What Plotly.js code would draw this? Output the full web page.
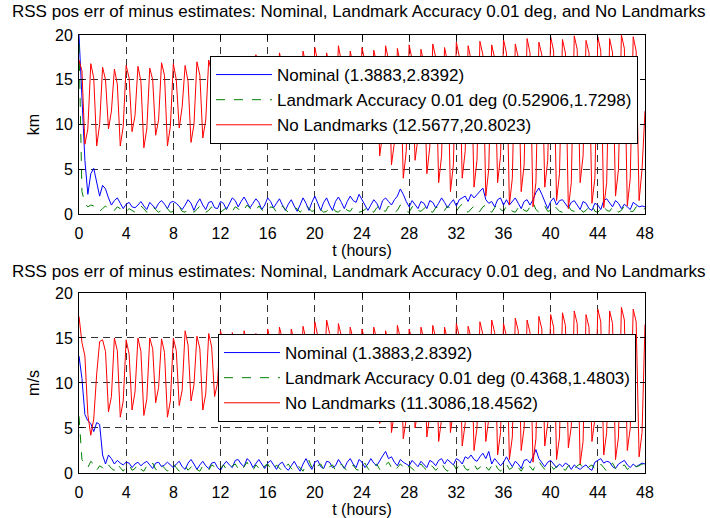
<!DOCTYPE html>
<html>
<head>
<meta charset="utf-8">
<script src="https://cdn.plot.ly/plotly-3.0.1.min.js"></script>
<style>html,body{margin:0;padding:0;background:#fff;}#chart{width:710px;height:518px;}</style>
</head>
<body>
<div id="chart"></div>
<script>
// time (hours)
const hours = [0,0.25,0.5,0.75,1,1.25,1.5,1.75,2,2.25,2.5,2.75,3,3.25,3.5,3.75,4,4.25,4.5,4.75,5,5.25,5.5,5.75,6,6.25,6.5,6.75,7,7.25,7.5,7.75,8,8.25,8.5,8.75,9,9.25,9.5,9.75,10,10.25,10.5,10.75,11,11.25,11.5,11.75,12,12.25,12.5,12.75,13,13.25,13.5,13.75,14,14.25,14.5,14.75,15,15.25,15.5,15.75,16,16.25,16.5,16.75,17,17.25,17.5,17.75,18,18.25,18.5,18.75,19,19.25,19.5,19.75,20,20.25,20.5,20.75,21,21.25,21.5,21.75,22,22.25,22.5,22.75,23,23.25,23.5,23.75,24,24.25,24.5,24.75,25,25.25,25.5,25.75,26,26.25,26.5,26.75,27,27.25,27.5,27.75,28,28.25,28.5,28.75,29,29.25,29.5,29.75,30,30.25,30.5,30.75,31,31.25,31.5,31.75,32,32.25,32.5,32.75,33,33.25,33.5,33.75,34,34.25,34.5,34.75,35,35.25,35.5,35.75,36,36.25,36.5,36.75,37,37.25,37.5,37.75,38,38.25,38.5,38.75,39,39.25,39.5,39.75,40,40.25,40.5,40.75,41,41.25,41.5,41.75,42,42.25,42.5,42.75,43,43.25,43.5,43.75,44,44.25,44.5,44.75,45,45.25,45.5,45.75,46,46.25,46.5,46.75,47,47.25,47.5,47.75,48];

// Top panel (km)
const posNominal = [20,12,6,2.2, 4.5,5.1,3.5,2.0, 3.2,2.8,1.8,1.0, 1.5,1.8,1.2,0.6, 1.1,1.3,0.8,0.7, 1.0,1.4,0.9,0.5, 1.3,1.0,0.6,1.2, 1.5,1.1,0.6,1.3, 1.4,1.2,0.8,0.5, 1.0,1.6,1.2,0.4, 1.2,1.7,1.0,0.5, 1.3,1.4,0.7,0.6, 1.4,1.2,0.5,1.2, 1.8,1.5,0.8,1.4, 1.9,1.3,0.7,1.2, 1.7,1.3,0.5,1.0, 1.8,1.4,0.7,1.2, 1.7,1.0,0.4,1.1, 1.6,0.9,0.3,1.0, 1.8,1.2,0.4,1.3, 2.0,1.2,0.4,1.3, 1.8,1.0,0.4,1.4, 1.9,1.3,0.6,1.4, 2.0,1.5,1.3,2.2, 1.6,0.9,0.4,1.0, 1.6,1.2,0.5,1.5, 1.8,1.4,1.0,1.6, 2.0,2.8,2.2,1.4, 0.8,1.5,1.0,0.6, 1.4,1.2,0.6,1.5, 1.3,0.7,1.2,1.8, 1.3,0.7,1.2,1.6, 0.9,1.6,1.8,2.0, 1.4,2.2,1.8,2.2, 2.5,2.9,1.6,1.2, 1.4,0.8,1.6,1.8, 1.0,1.6,1.0,1.4, 1.8,1.2,0.6,1.4, 1.6,1.0,1.6,2.4, 2.9,2.2,1.4,0.6, 1.4,1.8,1.0,1.5, 1.6,1.2,0.7,1.3, 1.5,1.0,0.5,1.4, 1.2,0.6,0.4,1.2, 1.0,0.5,1.5,1.7, 1.3,0.8,1.5,1.2, 0.6,1.1,0.8,0.5, 1.3,1.0,0.8,0.9, 0.8];
const posLandmark = [19,2.5,1.2,0.8, 1.0,0.9,0.4,0.3, 0.6,0.9,0.5,0.3, 0.4,0.8,0.6,0.2, 0.3,0.6,0.4,0.2, 0.5,0.9,0.6,0.2, 0.3,0.8,0.5,0.2, 0.4,0.9,0.6,0.2, 0.3,0.7,0.8,0.3, 0.2,0.6,0.4,0.2, 0.5,0.9,0.5,0.2, 0.4,0.8,0.6,0.3, 0.2,0.5,0.7,0.2, 0.3,0.8,0.6,0.2, 0.5,1.0,0.7,0.3, 0.4,0.9,0.5,0.2, 0.3,0.8,0.7,0.2, 0.4,0.9,0.5,0.2, 0.3,0.7,0.6,0.2, 0.5,1.0,0.6,0.3, 0.4,0.8,0.5,0.2, 0.3,0.7,0.8,0.3, 0.2,0.6,0.9,0.4, 0.3,0.8,0.6,0.2, 0.3,0.5,0.8,0.3, 0.2,0.7,1.0,0.4, 0.3,0.9,0.6,0.2, 0.4,1.0,0.7,0.3, 0.2,0.8,1.0,0.4, 0.3,0.6,0.9,0.3, 0.2,0.7,0.8,0.3, 0.4,0.9,0.6,0.2, 0.3,0.8,1.1,0.4, 0.2,0.6,0.9,0.3, 0.3,0.8,1.0,0.4, 0.2,0.7,1.2,0.5, 0.3,0.9,0.8,0.3, 0.2,0.7,1.0,0.4, 0.3,0.8,1.3,0.5, 0.2,0.6,0.9,0.3, 0.4,1.0,0.7,0.3, 0.2,0.8,0.9,0.4, 0.3,0.7,0.6,0.2, 0.4,0.8,1.0,0.3, 0.2,0.6,0.9,0.4, 0.3,0.8,0.7,0.2, 0.4,0.9,0.6,0.3, 0.3,0.8,0.9,0.5, 0.6];
const posNoLandmarks = [17.2,16.0,7.8,9.5, 16.8,15.2,7.6,10.0, 16.4,15.0,9.5,11.5, 16.2,14.5,7.6,9.8, 16.6,15.2,9.2,11.0, 16.5,14.8,7.4,9.5, 16.3,15.0,8.8,10.5, 16.9,15.5,7.6,9.8, 16.8,15.0,9.6,12.0, 16.6,14.8,8.0,10.0, 17.0,15.5,8.5,10.5, 17.2,15.8,8.8,11.0, 17.4,15.6,9.4,11.5, 17.6,16.0,8.8,10.5, 17.2,15.8,8.3,10.2, 17.8,16.2,9.0,11.0, 17.5,15.8,8.6,10.5, 18.0,16.5,9.2,11.2, 17.6,16.0,8.8,10.8, 18.2,16.6,9.4,11.5, 18.6,17.0,8.6,10.5, 18.0,16.4,9.0,11.0, 18.8,17.0,8.6,10.6, 18.2,16.6,8.8,10.8, 18.6,17.0,8.0,10.0, 18.3,16.8,6.5,9.0, 18.8,17.2,5.5,8.0, 18.5,16.8,4.0,7.0, 18.9,17.2,6.0,8.5, 18.4,16.8,4.5,7.5, 19.0,17.5,3.5,6.5, 18.6,17.0,2.5,5.5, 19.2,17.6,4.0,7.0, 18.8,17.2,3.0,6.0, 19.3,17.8,2.0,5.0, 18.9,17.4,3.5,6.5, 19.5,18.0,1.0,4.0, 19.0,17.5,2.5,5.5, 19.6,18.0,0.8,3.5, 19.2,17.8,3.0,6.0, 19.8,18.2,1.5,4.5, 19.5,18.0,0.6,3.5, 19.9,18.4,3.5,6.5, 19.4,18.0,1.2,4.0, 19.8,18.2,0.7,3.5, 19.6,18.0,2.0,5.0, 20.0,18.5,0.9,4.0, 19.8,18.2,1.5,5.0, 11.5];

// Bottom panel (m/s)
const velNominal = [13,10.5,6.5,5.8, 5.5,4.6,5.6,5.4, 2.0,1.0,2.0,1.6, 1.0,1.4,1.1,0.9, 1.2,1.1,0.6,1.0, 1.2,0.8,1.1,1.3, 0.9,0.5,1.1,1.2, 0.7,0.9,1.2,0.9, 0.6,1.0,1.3,0.7, 0.4,1.1,1.5,1.0, 0.4,0.9,1.3,0.8, 0.5,1.1,1.2,0.6, 0.3,0.9,1.3,0.9, 0.6,1.4,1.5,1.0, 0.7,1.6,1.3,0.6, 1.0,1.5,1.0,0.5, 1.1,1.4,0.9,0.4, 1.0,1.2,0.6,0.3, 0.8,1.3,0.7,0.2, 1.0,1.6,0.9,0.4, 1.2,1.4,0.7,0.5, 1.3,1.2,0.6,0.8, 1.5,1.0,0.5,1.2, 1.6,1.0,0.6,1.5, 1.2,0.6,1.0,1.6, 1.1,0.8,1.4,1.9, 2.4,1.6,1.8,1.2, 0.8,1.5,1.2,1.0, 0.8,1.4,1.1,0.7, 1.3,1.0,0.6,1.4, 1.2,0.8,1.4,1.6, 1.0,1.5,1.2,0.9, 1.6,1.4,1.0,1.8, 1.6,2.0,1.5,1.3, 1.8,2.2,1.6,2.4, 1.0,1.6,1.2,0.8, 1.2,1.8,1.2,0.7, 1.3,1.0,0.5,1.4, 1.5,1.1,1.8,2.6, 1.6,1.2,0.7,1.2, 1.4,1.0,0.6,1.0, 0.7,1.1,0.9,0.4, 0.9,0.6,0.4,0.7, 0.9,0.5,0.3,1.2, 1.4,1.6,1.1,1.3, 1.2,0.7,0.5,1.0, 1.2,1.4,0.9,0.6, 1.0,0.7,0.9,1.1, 1.0];
const velLandmark = [6.3,1.5,1.0,0.6, 1.3,1.0,0.3,0.8, 0.6,0.3,0.9,0.5, 0.3,1.0,0.6,0.2, 0.7,0.9,0.3,0.5, 1.0,0.4,0.2,0.8, 0.6,1.1,0.4,0.3, 0.9,0.5,0.2,0.7, 1.0,0.6,0.2,0.5, 0.8,0.3,0.7,1.0, 0.4,0.2,0.8,0.6, 0.3,0.9,0.7,0.2, 0.5,0.9,0.4,0.3, 0.8,1.0,0.5,0.2, 0.7,1.2,0.6,0.3, 0.9,0.6,0.2,0.8, 1.0,0.5,0.3,0.9, 0.6,0.2,0.7,1.0, 0.5,0.3,0.8,0.6, 0.2,0.9,1.4,0.6, 0.3,0.8,1.0,0.4, 0.2,0.7,0.9,0.3, 0.5,1.0,0.6,0.2, 0.6,0.9,0.4,0.3, 0.8,1.1,0.5,0.2, 0.7,1.0,0.4,0.3, 0.9,1.2,0.6,0.2, 0.6,1.0,0.7,0.3, 0.8,0.5,0.2,0.7, 1.0,0.6,0.3,0.9, 0.7,0.3,0.6,1.1, 0.5,0.2,0.8,1.0, 0.4,0.9,1.2,0.5, 0.3,0.8,1.0,0.4, 0.6,1.1,0.7,0.3, 0.8,1.2,0.5,0.2, 0.7,1.0,0.4,0.6, 1.0,0.6,0.2,0.8, 1.1,0.7,0.3,0.9, 1.3,0.8,0.4,0.6, 0.9,0.4,0.7,1.0, 0.5,0.3,0.8,0.9, 0.4,0.8,1.0,0.5, 0.3,0.7,0.9,0.4, 0.6,1.0,0.6,0.2, 0.8,1.1,0.5,0.3, 0.7,0.9,0.4,0.6, 1.0,0.7,0.8,1.0, 0.9];
const velNoLandmarks = [17.4,14.5,13.0,6.5, 4.2,6.0,11.0,14.6, 14.8,13.5,6.8,8.5, 15.0,13.6,6.2,8.0, 14.8,13.2,7.0,9.0, 15.0,13.5,6.4,8.2, 15.0,13.8,7.8,9.5, 14.9,13.4,6.2,8.0, 15.0,13.6,7.5,9.2, 15.8,14.2,8.0,9.8, 15.2,13.8,7.0,8.8, 15.5,14.0,8.5,10.0, 15.8,14.4,8.0,9.6, 15.6,14.2,7.5,9.2, 15.8,14.4,8.5,10.2, 15.5,14.0,7.8,9.5, 16.0,14.6,8.5,10.0, 16.2,14.8,7.5,9.2, 16.0,14.6,8.0,9.8, 16.3,14.8,7.5,9.0, 16.8,15.2,8.0,9.6, 17.0,15.5,7.0,8.8, 16.6,15.2,7.8,9.4, 16.2,14.8,7.2,9.0, 16.0,14.6,6.5,8.5, 16.2,14.8,5.5,7.5, 15.8,14.4,4.5,6.8, 16.4,15.0,3.8,6.0, 16.0,14.6,5.0,7.0, 16.2,14.8,4.0,6.5, 16.4,15.0,3.5,6.0, 16.2,14.8,4.5,7.0, 16.6,15.2,3.0,5.5, 16.3,15.0,2.5,5.0, 16.8,15.4,3.5,6.0, 17.0,15.6,2.0,4.5, 16.6,15.2,1.5,4.0, 17.2,15.8,2.5,5.0, 17.0,15.6,1.2,3.8, 17.4,16.0,3.0,5.5, 17.6,16.2,1.5,4.0, 17.8,16.4,2.8,5.2, 18.0,16.6,1.0,3.5, 17.6,16.2,3.5,6.0, 18.2,16.8,2.0,4.5, 18.0,16.6,1.5,4.0, 18.4,17.0,2.5,5.0, 18.2,16.8,1.8,4.5, 16.5];

const titleText = 'RSS pos err of minus estimates: Nominal, Landmark Accuracy 0.01 deg, and No Landmarks';
const topNames = ['Nominal (1.3883,2.8392)', 'Landmark Accuracy 0.01 deg (0.52906,1.7298)', 'No Landmarks (12.5677,20.8023)'];
const botNames = ['Nominal (1.3883,2.8392)', 'Landmark Accuracy 0.01 deg (0.4368,1.4803)', 'No Landmarks (11.3086,18.4562)'];
const xTicks = [0,4,8,12,16,20,24,28,32,36,40,44,48];
const yTicks = [0,5,10,15,20];

const FONT = 'Liberation Sans, Arial, sans-serif';
const cBlue = '#0000ff', cGreen = '#008000', cRed = '#ff0000';

function tr(y, name, color, dash, xa, ya, leg, grp) {
  return {x: hours, y: y, name: name, type: 'scatter', mode: 'lines',
    line: {color: color, width: 1, dash: dash}, xaxis: xa, yaxis: ya, legend: leg, legendgroup: grp};
}
const data = [
  tr(posNominal, topNames[0], cBlue, 'solid', 'x', 'y', 'legend', 'a'),
  tr(posLandmark, topNames[1], cGreen, '9px,9px', 'x', 'y', 'legend', 'b'),
  tr(posNoLandmarks, topNames[2], cRed, 'solid', 'x', 'y', 'legend', 'c'),
  tr(velNominal, botNames[0], cBlue, 'solid', 'x2', 'y2', 'legend2', 'd'),
  tr(velLandmark, botNames[1], cGreen, '9px,9px', 'x2', 'y2', 'legend2', 'e'),
  tr(velNoLandmarks, botNames[2], cRed, 'solid', 'x2', 'y2', 'legend2', 'f')
];

function xax(anchor) {
  return {anchor: anchor, domain: [0, 1], range: [0, 48], tickvals: xTicks, ticktext: xTicks.map(String),
    showgrid: true, gridcolor: '#333', griddash: '7px,5px', gridwidth: 1,
    showline: true, linecolor: '#000', linewidth: 1, mirror: 'ticks', ticks: 'inside', ticklen: 5, tickcolor: '#000',
    zeroline: false, ticklabelstandoff: 5, tickfont: {size: 16, color: '#000', family: FONT},
    title: {text: 't (hours)', font: {size: 16, color: '#000', family: FONT}, standoff: 2}, automargin: false, fixedrange: true};
}
function yax(anchor, domain, label) {
  return {anchor: anchor, domain: domain, range: [0, 20], tickvals: yTicks, ticktext: yTicks.map(String),
    showgrid: true, gridcolor: '#333', griddash: '7px,5px', gridwidth: 1,
    showline: true, linecolor: '#000', linewidth: 1, mirror: 'ticks', ticks: 'inside', ticklen: 5, tickcolor: '#000',
    zeroline: false, ticklabelstandoff: 2, tickfont: {size: 16, color: '#000', family: FONT},
    title: {text: label, font: {size: 16, color: '#000', family: FONT}, standoff: 11}, automargin: false, fixedrange: true};
}
function leg(x, y) {
  return {x: x, y: y, xanchor: 'left', yanchor: 'top', bgcolor: '#fff', bordercolor: '#000', borderwidth: 1,
    font: {size: 17, color: '#000', family: FONT}, itemwidth: 56, traceorder: 'grouped', tracegroupgap: 0};
}

const layout = {
  width: 710, height: 518, paper_bgcolor: '#fff', plot_bgcolor: '#fff',
  margin: {l: 79, r: 65, t: 35, b: 45}, showlegend: true,
  font: {family: FONT, size: 16, color: '#000'},
  xaxis: xax('y'), yaxis: yax('x', [0.5913, 1], 'km'),
  xaxis2: xax('y2'), yaxis2: yax('x2', [0, 0.411], 'm/s'),
  legend: leg(0.2314, 0.952), legend2: leg(0.2456, 0.3173),
  annotations: [
    {text: titleText, xref: 'paper', yref: 'paper', x: 0.494, y: 1.053, xanchor: 'center', yanchor: 'middle', showarrow: false, font: {size: 17, color: '#000', family: FONT}},
    {text: titleText, xref: 'paper', yref: 'paper', x: 0.494, y: 0.4600, xanchor: 'center', yanchor: 'middle', showarrow: false, font: {size: 17, color: '#000', family: FONT}}
  ]
};
Plotly.newPlot('chart', data, layout, {displayModeBar: false, staticPlot: true});
</script>
</body>
</html>
